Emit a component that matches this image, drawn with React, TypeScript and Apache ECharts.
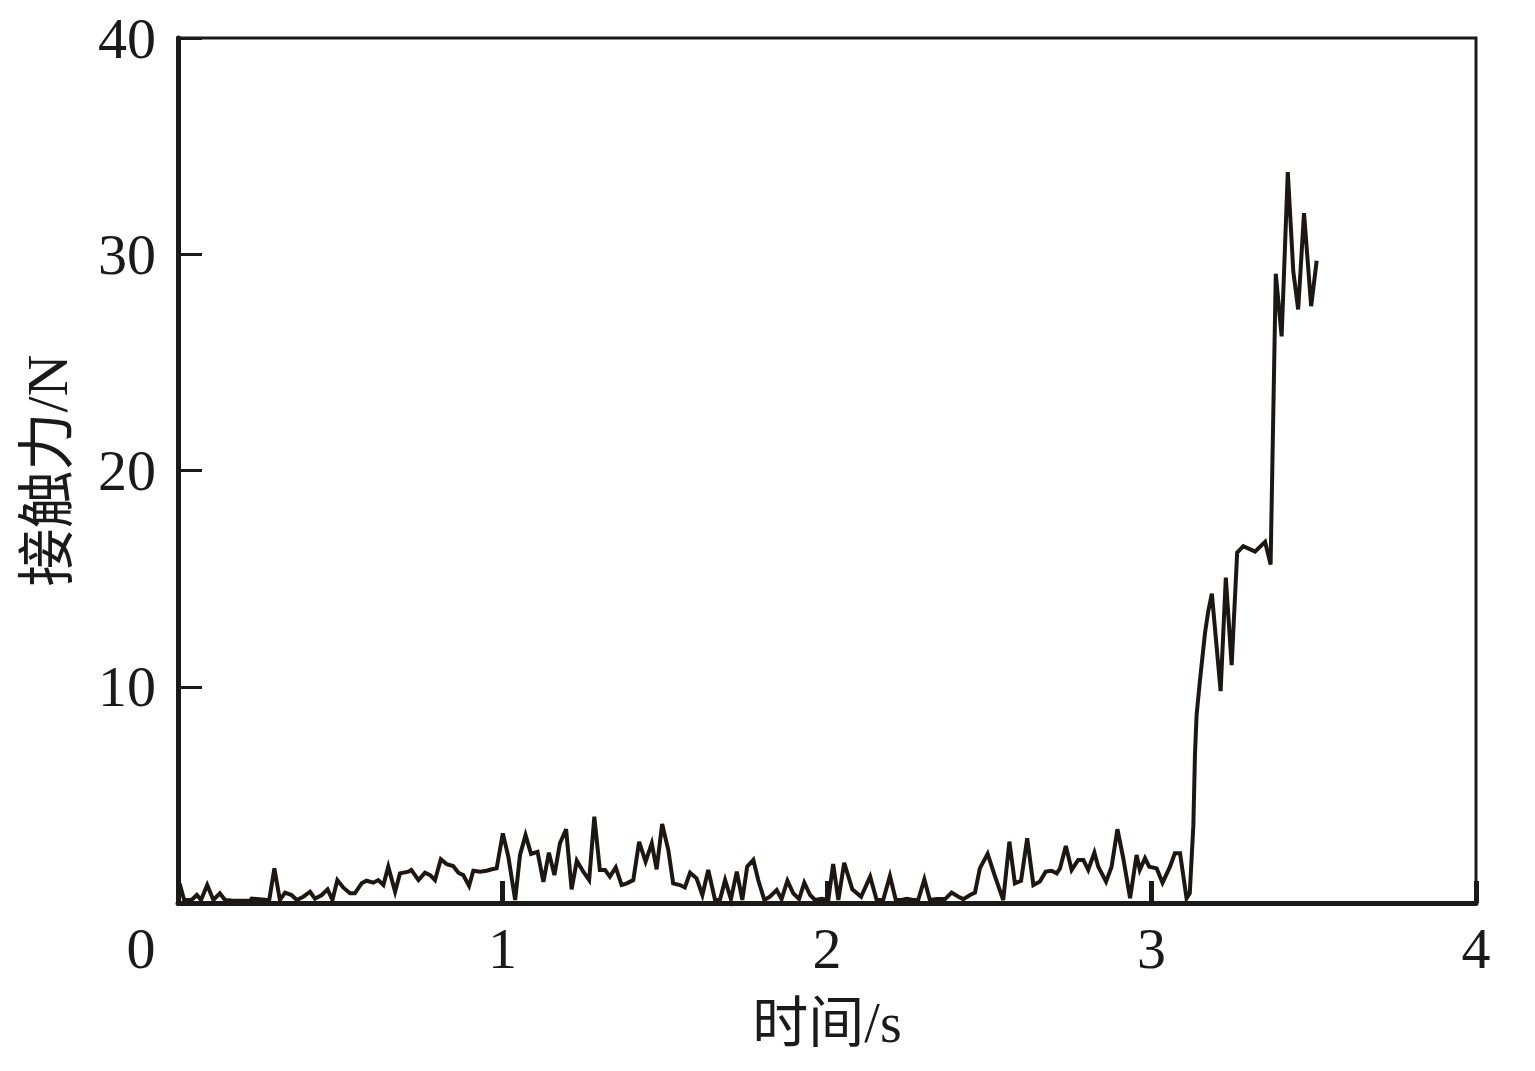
import React, { useEffect, useRef } from "react";
import * as echarts from "echarts";

const times: number[] = [
  0.005, 0.019, 0.042, 0.058, 0.071, 0.09, 0.109, 0.129, 0.145, 0.165, 0.222, 0.227, 0.268, 0.281, 0.297, 0.314,
  0.33, 0.35, 0.366, 0.386, 0.407, 0.422, 0.443, 0.461, 0.476, 0.491, 0.509, 0.53, 0.545, 0.566, 0.581, 0.602,
  0.617, 0.633, 0.648, 0.669, 0.684, 0.71, 0.719, 0.741, 0.761, 0.777, 0.792, 0.81, 0.828, 0.848, 0.864, 0.879,
  0.897, 0.91, 0.931, 0.951, 0.967, 0.982, 1.001, 1.018, 1.039, 1.054, 1.071, 1.088, 1.108, 1.126, 1.143, 1.16,
  1.177, 1.196, 1.213, 1.229, 1.249, 1.267, 1.283, 1.3, 1.316, 1.331, 1.349, 1.367, 1.383, 1.403, 1.421, 1.441,
  1.46, 1.475, 1.492, 1.511, 1.526, 1.547, 1.562, 1.578, 1.598, 1.616, 1.634, 1.655, 1.67, 1.686, 1.704, 1.722,
  1.739, 1.754, 1.773, 1.788, 1.807, 1.824, 1.845, 1.86, 1.878, 1.896, 1.914, 1.93, 1.948, 1.963, 1.984, 2.004,
  2.019, 2.035, 2.053, 2.078, 2.105, 2.133, 2.153, 2.173, 2.194, 2.212, 2.23, 2.246, 2.266, 2.281, 2.3, 2.317,
  2.338, 2.364, 2.384, 2.405, 2.42, 2.441, 2.456, 2.471, 2.495, 2.518, 2.543, 2.562, 2.579, 2.598, 2.617, 2.636,
  2.656, 2.674, 2.692, 2.708, 2.718, 2.736, 2.754, 2.774, 2.79, 2.805, 2.824, 2.836, 2.86, 2.877, 2.895, 2.913,
  2.934, 2.954, 2.964, 2.98, 2.993, 3.016, 3.034, 3.057, 3.072, 3.088, 3.108, 3.118, 3.129, 3.134, 3.139, 3.149,
  3.165, 3.175, 3.186, 3.213, 3.229, 3.247, 3.264, 3.283, 3.319, 3.35, 3.367, 3.383, 3.401, 3.42, 3.437, 3.452,
  3.47, 3.492, 3.509,
];

const forces: number[] = [
  0.9, 0.14, 0.14, 0.37, 0.14, 0.83, 0.14, 0.45, 0.14, 0.12, 0.1, 0.2, 0.15, 0.12, 1.6, 0.14,
  0.48, 0.37, 0.14, 0.29, 0.52, 0.2, 0.37, 0.63, 0.14, 1.06, 0.72, 0.45, 0.45, 0.91, 1.03, 0.94,
  1.06, 0.83, 1.68, 0.52, 1.37, 1.45, 1.53, 1.06, 1.4, 1.29, 1.06, 2.02, 1.8, 1.71, 1.4, 1.29,
  0.79, 1.49, 1.45, 1.49, 1.56, 1.6, 3.22, 2.14, 0.14, 2.22, 3.14, 2.27, 2.37, 0.98, 2.33, 1.29,
  2.76, 3.41, 0.63, 1.96, 1.45, 1.06, 3.99, 1.53, 1.53, 1.22, 1.65, 0.83, 0.91, 1.06, 2.83, 1.91,
  2.76, 1.56, 3.65, 2.45, 0.91, 0.83, 0.72, 1.4, 1.14, 0.37, 1.53, 0.14, 0.14, 1.06, 0.18, 1.45,
  0.14, 1.68, 1.99, 1.06, 0.14, 0.29, 0.6, 0.18, 1.03, 0.45, 0.18, 0.94, 0.37, 0.14, 0.2, 0.14,
  1.8, 0.14, 1.86, 0.63, 0.29, 1.22, 0.14, 0.14, 1.25, 0.14, 0.14, 0.2, 0.14, 0.14, 1.09, 0.14,
  0.18, 0.18, 0.48, 0.29, 0.18, 0.37, 0.48, 1.6, 2.27, 1.22, 0.14, 2.84, 0.91, 1.03, 2.99, 0.83,
  0.99, 1.45, 1.49, 1.37, 1.6, 2.64, 1.53, 1.99, 1.99, 1.53, 2.33, 1.68, 0.99, 1.68, 3.41, 2.07,
  0.22, 2.22, 1.53, 2.07, 1.68, 1.6, 0.94, 1.68, 2.3, 2.3, 0.22, 0.46, 3.6, 6.9, 8.7, 10.25,
  12.5, 13.5, 14.3, 9.8, 15.05, 11.0, 16.2, 16.5, 16.25, 16.7, 15.65, 29.1, 26.2, 33.8, 29.2, 27.45,
  31.9, 27.6, 29.7,
];

const xTicks: number[] = [0, 1, 2, 3, 4];
const yTicks: number[] = [0, 10, 20, 30, 40];
const xTitle = "时间/s";
const yTitle = "接触力/N";

const INK = "#1a1a1a";
const FONT = "'Liberation Serif', 'Times New Roman', 'Noto Sans CJK SC', serif";

export default function App() {
  const ref = useRef<HTMLDivElement>(null);
  useEffect(() => {
    if (!ref.current) return;
    const chart = echarts.init(ref.current, null, { renderer: "svg" });
    const data = times.map((t, i) => [t, forces[i]]);
    chart.setOption({
      animation: false,
      backgroundColor: "#ffffff",
      grid: {
        left: 178,
        right: 59,
        top: 38,
        bottom: 168,
        show: true,
        borderColor: INK,
        borderWidth: 3,
      },
      xAxis: {
        type: "value",
        min: xTicks[0],
        max: xTicks[xTicks.length - 1],
        interval: 1,
        name: xTitle,
        nameLocation: "middle",
        nameGap: 92,
        nameTextStyle: { fontFamily: FONT, fontSize: 56, color: INK },
        axisLine: { show: true, lineStyle: { color: INK, width: 5 } },
        axisTick: { show: true, inside: true, length: 22, lineStyle: { color: INK, width: 5 } },
        splitLine: { show: false },
        axisLabel: {
          margin: 16,
          fontFamily: FONT,
          fontSize: 58,
          color: INK,
          formatter: (v: number) => (v === 0 ? "{z|0}" : String(v)),
          rich: {
            z: { fontFamily: FONT, fontSize: 58, color: INK, padding: [0, 74, 0, 0] },
          },
        },
      },
      yAxis: {
        type: "value",
        min: yTicks[0],
        max: yTicks[yTicks.length - 1],
        interval: 10,
        name: yTitle,
        nameLocation: "middle",
        nameGap: 102,
        nameRotate: 90,
        nameTextStyle: { fontFamily: FONT, fontSize: 58, color: INK },
        axisLine: { show: true, lineStyle: { color: INK, width: 5 } },
        axisTick: { show: true, inside: true, length: 24, lineStyle: { color: INK, width: 3 } },
        splitLine: { show: false },
        axisLabel: {
          margin: 22,
          fontFamily: FONT,
          fontSize: 58,
          color: INK,
          formatter: (v: number) => (v === 0 ? "" : String(v)),
        },
      },
      series: [
        {
          type: "line",
          data,
          showSymbol: false,
          symbol: "none",
          lineStyle: { color: "#1c1713", width: 4, join: "miter" },
          clip: false,
        },
      ],
    });
    return () => chart.dispose();
  }, []);
  return (
    <div
      ref={ref}
      style={{ position: "absolute", left: 0, top: 0, width: 1535, height: 1071, background: "#fff" }}
    />
  );
}
